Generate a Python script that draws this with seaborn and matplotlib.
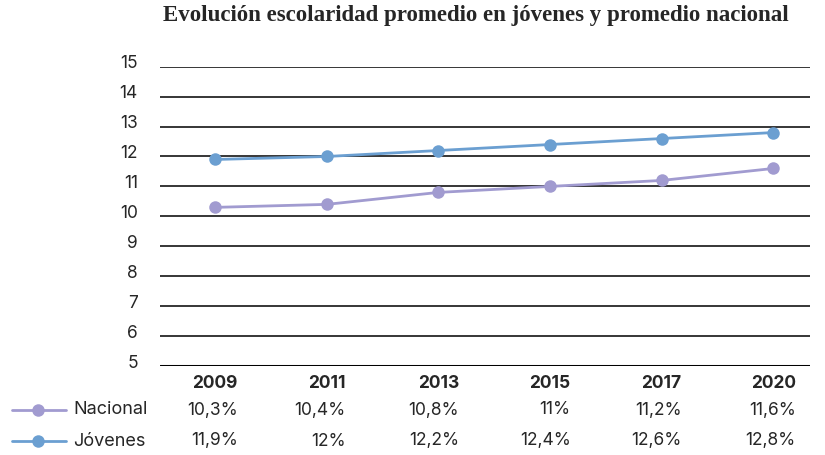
import matplotlib.pyplot as plt
import matplotlib.transforms as mtransforms
from matplotlib.lines import Line2D
import seaborn as sns
import pandas as pd

years = ["2009", "2011", "2013", "2015", "2017", "2020"]
nacional = [10.3, 10.4, 10.8, 11.0, 11.2, 11.6]
jovenes = [11.9, 12.0, 12.2, 12.4, 12.6, 12.8]
nacional_labels = ["10,3%", "10,4%", "10,8%", "11%", "11,2%", "11,6%"]
jovenes_labels = ["11,9%", "12%", "12,2%", "12,4%", "12,6%", "12,8%"]
yticks = list(range(5, 16))

col_nac = "#a19bd0"
col_jov = "#6b9fd1"

df = pd.DataFrame({
    "year": years * 2,
    "valor": nacional + jovenes,
    "serie": ["Nacional"] * 6 + ["Jóvenes"] * 6,
})

sns.set_style("white")
plt.rcParams["font.family"] = ["Inter", "DejaVu Sans"]

fig = plt.figure(figsize=(8.25, 4.55), dpi=100)
ax = fig.add_axes([0.194, 0.1956, 0.788, 0.6578])

for y in yticks[1:]:
    ax.axhline(y, color="black", lw=1.1, zorder=1)
ax.axhline(5, color="black", lw=2.2, zorder=1)

sns.lineplot(data=df, x="year", y="valor", hue="serie",
             palette={"Nacional": col_nac, "Jóvenes": col_jov},
             marker="o", markersize=9, markeredgewidth=0, lw=2,
             legend=False, ax=ax, zorder=3)

ax.set_xlim(-0.493, 5.33)
ax.set_ylim(5, 15)
ax.set_yticks(yticks)
ax.set_yticklabels([str(v) for v in yticks], fontsize=12.5)
ax.tick_params(axis="y", length=0, pad=16)
offset = mtransforms.ScaledTranslation(0, 5 / 100, fig.dpi_scale_trans)
for lab in ax.get_yticklabels():
    lab.set_transform(lab.get_transform() + offset)
ax.set_xticks([])
ax.set_xlabel("")
ax.set_ylabel("")
for s in ax.spines.values():
    s.set_visible(False)

fig.text(0.577, 0.965, "Evolución escolaridad promedio en jóvenes y promedio nacional",
         family="Liberation Serif", fontweight="bold", fontsize=16.5,
         ha="center", va="center")

# years row, then value rows right-aligned to each year's right edge
trans = mtransforms.blended_transform_factory(ax.transData, fig.transFigure)
year_texts = []
for i, yr in enumerate(years):
    t = ax.text(i, 1 - 383 / 455, yr, transform=trans, ha="center", va="center",
                fontsize=12.5, fontweight="bold")
    year_texts.append(t)

fig.canvas.draw()
renderer = fig.canvas.get_renderer()
for i, t in enumerate(year_texts):
    bb = t.get_window_extent(renderer)
    xr = ax.transData.inverted().transform((bb.x1, 0))[0]
    ax.text(xr, 1 - 410 / 455, nacional_labels[i], transform=trans,
            ha="right", va="center", fontsize=12.5)
    ax.text(xr, 1 - 441 / 455, jovenes_labels[i], transform=trans,
            ha="right", va="center", fontsize=12.5)

for name, col, ypx in [("Nacional", col_nac, 410), ("Jóvenes", col_jov, 441)]:
    yf = 1 - ypx / 455
    fig.add_artist(Line2D([12 / 825, 66 / 825], [yf, yf], color=col, lw=2,
                          transform=fig.transFigure))
    fig.add_artist(Line2D([38 / 825], [yf], color=col, marker="o", markersize=9,
                          markeredgewidth=0, transform=fig.transFigure))
    fig.text(73 / 825, yf, name, ha="left", va="center", fontsize=13)

fig.savefig("out.png", dpi=100)
